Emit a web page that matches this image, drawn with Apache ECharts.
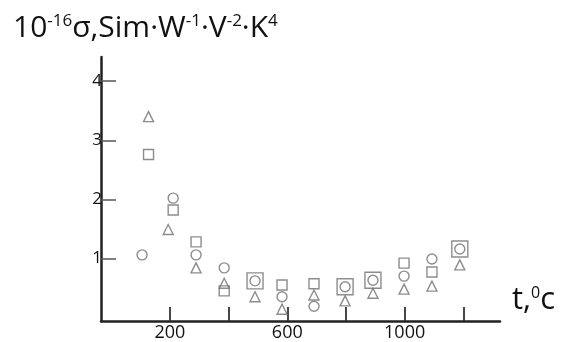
<!DOCTYPE html>
<html>
<head>
<meta charset="utf-8">
<script src="https://cdn.jsdelivr.net/npm/echarts@6/dist/echarts.min.js"></script>
<style>html,body{margin:0;padding:0;background:#fff}#c{width:566px;height:342px}</style>
</head>
<body>
<div id="c"></div>
<script>
// temperature (°C) and sigma values
var xCircle   = [105, 211, 289, 385, 490, 582, 691, 797, 892, 998, 1093, 1188];
var yCircle   = [1.06, 2.02, 1.06, 0.84, 0.62, 0.35, 0.19, 0.52, 0.63, 0.70, 0.99, 1.16];
var xSquare   = [127, 211, 289, 385, 490, 582, 691, 797, 892, 998, 1093, 1188];
var ySquare   = [2.76, 1.82, 1.28, 0.45, 0.62, 0.55, 0.57, 0.52, 0.63, 0.92, 0.77, 1.16];
var xTriangle = [127, 194, 289, 385, 490, 582, 691, 797, 892, 998, 1093, 1188];
var yTriangle = [3.40, 1.49, 0.84, 0.58, 0.35, 0.14, 0.38, 0.28, 0.41, 0.48, 0.53, 0.89];
var xTicks  = [200, 400, 600, 800, 1000, 1200];
var xLabels = [200, 600, 1000];
var yTicks  = [1, 2, 3, 4];

function pairs(xs, ys) { return xs.map(function (x, i) { return [x, ys[i]]; }); }
var circleData = pairs(xCircle, yCircle);
var squareData = pairs(xSquare, ySquare);
var triData = pairs(xTriangle, yTriangle);

var gray = '#707070';
var font = 'Open Sans';
var chart = echarts.init(document.getElementById('c'));
chart.setOption({
  animation: false,
  backgroundColor: '#fff',
  grid: { left: 101, right: 66, top: 57, bottom: 21, containLabel: false },
  xAxis: {
    type: 'value', min: -35, max: 1325,
    splitLine: { show: false },
    axisLine: { show: true, onZero: false, lineStyle: { color: '#222', width: 2.5 } },
    axisTick: { show: true, inside: true, length: 14, customValues: xTicks, lineStyle: { color: '#333', width: 1.8 } },
    axisLabel: { customValues: xLabels, color: '#111', fontSize: 18, fontFamily: font, margin: 3,
      formatter: function (v) { return String(v); } }
  },
  yAxis: {
    type: 'value', min: -0.06, max: 4.41,
    splitLine: { show: false },
    axisLine: { show: true, onZero: false, lineStyle: { color: '#222', width: 2.5 } },
    axisTick: { show: true, inside: true, length: 15, customValues: yTicks, lineStyle: { color: '#555', width: 1.5 } },
    axisLabel: { customValues: yTicks, color: '#111', fontSize: 17, fontFamily: font, margin: -1,
      formatter: function (v) { return String(v); } }
  },
  series: [
    {
      type: 'scatter', data: circleData, symbol: 'circle', symbolSize: 10,
      itemStyle: { color: 'rgba(0,0,0,0)', borderColor: gray, borderWidth: 1.4 }
    },
    {
      type: 'scatter', data: squareData, symbol: 'rect',
      symbolSize: function (v) {
        var same = circleData.some(function (c) { return c[0] === v[0] && Math.abs(c[1] - v[1]) < 0.02; });
        return same ? 16 : 10;
      },
      itemStyle: { color: 'rgba(0,0,0,0)', borderColor: gray, borderWidth: 1.4 }
    },
    {
      type: 'scatter', data: triData, symbol: 'triangle', symbolSize: 10,
      itemStyle: { color: 'rgba(0,0,0,0)', borderColor: gray, borderWidth: 1.4 }
    }
  ],
  graphic: [
    {
      type: 'text', left: 13, top: 13,
      style: {
        text: '10{s|-16}σ,Sim·W{s|-1}·V{s|-2}·K{s|4}',
        fontSize: 30, fontFamily: font, fill: '#111',
        rich: { s: { fontSize: 17, fontFamily: font, verticalAlign: 'top', fill: '#111' } }
      }
    },
    {
      type: 'text', left: 512, top: 285,
      style: {
        text: 't,{s|0}c',
        fontSize: 31, fontFamily: font, fill: '#111',
        rich: { s: { fontSize: 16, fontFamily: font, verticalAlign: 'top', fill: '#111' } }
      }
    }
  ]
});
</script>
</body>
</html>
